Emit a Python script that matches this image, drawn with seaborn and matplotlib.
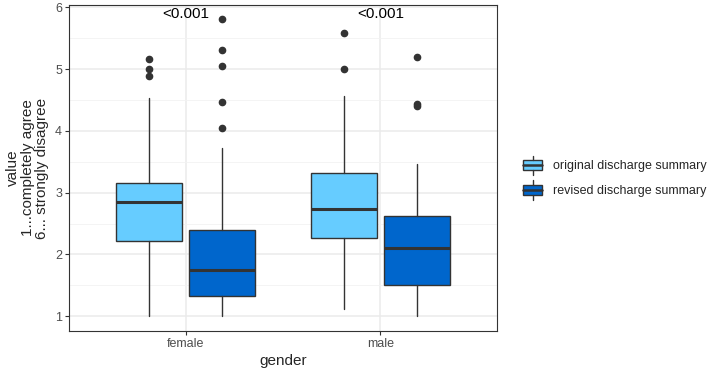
import matplotlib
matplotlib.use("Agg")
import matplotlib.pyplot as plt
import seaborn as sns
from matplotlib.legend_handler import HandlerBase
from matplotlib.patches import Rectangle, Patch
from matplotlib.lines import Line2D

# values
genders = ["female", "male"]
versions = ["original discharge summary", "revised discharge summary"]
colors = ["#66CCFF", "#0066CC"]
p_values = ["<0.001", "<0.001"]

orig_lo = [1.00, 1.11]
orig_q1 = [2.21, 2.26]
orig_med = [2.85, 2.74]
orig_q3 = [3.16, 3.32]
orig_hi = [4.53, 4.57]
orig_out = [[5.16, 5.00, 4.89], [5.59, 5.00]]

rev_lo = [1.00, 1.00]
rev_q1 = [1.32, 1.51]
rev_med = [1.74, 2.11]
rev_q3 = [2.40, 2.63]
rev_hi = [3.73, 3.47]
rev_out = [[5.81, 5.31, 5.06, 4.47, 4.05], [5.19, 4.43, 4.40]]

sns.set_theme(style="whitegrid")
plt.rcParams["font.family"] = ["Liberation Sans", "DejaVu Sans"]

edge = "#333333"


class BoxKey(HandlerBase):
    def create_artists(self, legend, orig_handle, xdescent, ydescent,
                       width, height, fontsize, trans):
        x0, y0 = -xdescent, -ydescent
        xm = x0 + width / 2
        ym = y0 + height / 2
        bh = height * 0.8
        box = Rectangle((x0, ym - bh / 2), width, bh,
                        facecolor=orig_handle.get_facecolor(),
                        edgecolor=edge, lw=1, transform=trans)
        med = Line2D([x0, x0 + width], [ym, ym], color=edge, lw=1.8, transform=trans)
        up = Line2D([xm, xm], [ym + bh / 2, ym + height * 0.75], color=edge, lw=1, transform=trans)
        dn = Line2D([xm, xm], [ym - bh / 2, ym - height * 0.75], color=edge, lw=1, transform=trans)
        return [box, up, dn, med]


fig = plt.figure(figsize=(7.08, 3.69), dpi=100)
ax = fig.add_axes([69 / 708, 1 - 331 / 369, 428 / 708, 326 / 369])

groups = [
    (orig_lo, orig_q1, orig_med, orig_q3, orig_hi, orig_out),
    (rev_lo, rev_q1, rev_med, rev_q3, rev_hi, rev_out),
]
offsets = [-0.1875, 0.1875]

for k, (lo, q1, med, q3, hi, out) in enumerate(groups):
    stats = []
    for i in range(len(genders)):
        stats.append(dict(whislo=lo[i], q1=q1[i], med=med[i], q3=q3[i],
                          whishi=hi[i], fliers=out[i]))
    pos = [i + 1 + offsets[k] for i in range(len(genders))]
    ax.bxp(stats, positions=pos, widths=0.34, patch_artist=True,
           showcaps=False,
           boxprops=dict(facecolor=colors[k], edgecolor=edge, lw=1),
           medianprops=dict(color=edge, lw=2.2),
           whiskerprops=dict(color=edge, lw=1),
           flierprops=dict(marker="o", markerfacecolor=edge,
                           markeredgecolor=edge, markersize=4.5),
           manage_ticks=False, zorder=3)

for i, p in enumerate(p_values):
    ax.text(i + 1, 5.9, p, ha="center", va="center", fontsize=11,
            color="black", zorder=4)

ax.set_xlim(0.4, 2.6)
ax.set_ylim(0.76, 6.04)
ax.set_xticks([1, 2])
ax.set_xticklabels(genders)
ax.set_yticks([1, 2, 3, 4, 5, 6])
ax.set_yticks([1.5, 2.5, 3.5, 4.5, 5.5], minor=True)

ax.grid(True, which="major", color="#EBEBEB", lw=1.1)
ax.grid(True, which="minor", axis="y", color="#F2F2F2", lw=0.6)
ax.set_facecolor("white")
for s in ax.spines.values():
    s.set_color("#333333")
    s.set_linewidth(0.8)

ax.tick_params(axis="both", which="major", length=3, width=0.8,
               color="#333333", labelsize=9, labelcolor="#4D4D4D", pad=2,
               bottom=True, left=True)
ax.tick_params(axis="y", which="minor", length=0)

ax.set_xlabel("gender", fontsize=11, labelpad=3)
ax.set_ylabel("value\n1...completely agree\n6... strongly disagree",
              fontsize=11, labelpad=4, linespacing=1.05)

handles = [Patch(facecolor=c) for c in colors]
fig.legend(handles, versions, loc="center left",
           bbox_to_anchor=(523 / 708, 1 - 178 / 369), frameon=False,
           fontsize=9, handler_map={Patch: BoxKey()},
           borderpad=0, borderaxespad=0,
           handlelength=1.55, handleheight=1.2, labelspacing=0.9,
           handletextpad=0.85)

fig.savefig("out.png", dpi=100)
